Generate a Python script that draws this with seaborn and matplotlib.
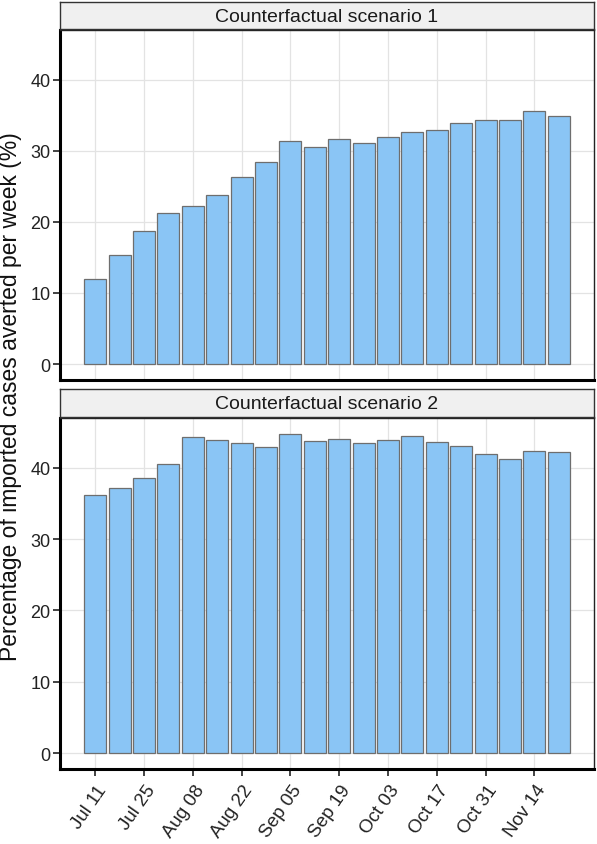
import matplotlib
matplotlib.use("Agg")
import matplotlib.pyplot as plt
import matplotlib.transforms as mtrans
import seaborn as sns
import pandas as pd

weeks = ["Jul 11", "Jul 18", "Jul 25", "Aug 01", "Aug 08", "Aug 15", "Aug 22", "Aug 29",
         "Sep 05", "Sep 12", "Sep 19", "Sep 26", "Oct 03", "Oct 10", "Oct 17", "Oct 24",
         "Oct 31", "Nov 07", "Nov 14", "Nov 21"]
scenario1 = [12.0, 15.3, 18.7, 21.2, 22.2, 23.8, 26.3, 28.4, 31.4, 30.6,
             31.7, 31.1, 31.9, 32.7, 32.9, 33.9, 34.3, 34.3, 35.6, 34.9]
scenario2 = [36.2, 37.2, 38.6, 40.6, 44.3, 43.9, 43.5, 42.9, 44.7, 43.8,
             44.1, 43.5, 43.9, 44.5, 43.7, 43.1, 42.0, 41.3, 42.4, 42.3]
panel_titles = ["Counterfactual scenario 1", "Counterfactual scenario 2"]
y_ticks = [0, 10, 20, 30, 40]
ylabel = "Percentage of imported cases averted per week (%)"

sns.set_style("white")
plt.rcParams['font.family'] = ['Liberation Sans', 'DejaVu Sans']

W, H = 597, 845
fig = plt.figure(figsize=(W / 100, H / 100), dpi=100)

def fx(px):
    return px / W

def fy(py):
    return 1 - py / H

fill = "#8AC5F5"
edge = "#6E6E6E"
tick_fs = 13

panels = [
    (scenario1, 3, 30, 31, 381, False),
    (scenario2, 390, 418, 419, 770, True),
]

for (vals, s_top, s_bot, a_top, a_bot, show_x), title in zip(panels, panel_titles):
    df = pd.DataFrame({"week": weeks, "value": vals})
    ax = fig.add_axes([fx(60), fy(a_bot), fx(594) - fx(60), fy(a_top) - fy(a_bot)])
    sns.barplot(data=df, x="week", y="value", order=weeks, color=fill, saturation=1,
                edgecolor=edge, linewidth=0.9, width=0.9, ax=ax)
    ax.set_axisbelow(True)
    ax.xaxis.grid(True, color="#E3E3E3", lw=0.9)
    ax.yaxis.grid(True, color="#E3E3E3", lw=0.9)
    ax.set_xlim(-1.445, 20.445)
    ax.set_ylim(-2.24, 47.0)
    ax.set_yticks(y_ticks)
    ax.set_yticklabels([str(t) for t in y_ticks], fontsize=tick_fs, color="#222222")
    ax.tick_params(axis="y", length=5, width=1.2, color="#222222", left=True, pad=2)
    ax.set_xticks(range(0, len(weeks), 2))
    ax.set_xlabel("")
    ax.set_ylabel("")
    if show_x:
        ax.tick_params(axis="x", length=5, width=1.2, color="#222222", bottom=True, pad=4)
        ax.set_xticklabels([weeks[i] for i in range(0, len(weeks), 2)], rotation=55,
                           ha="right", va="top", rotation_mode="default",
                           fontsize=13.5, color="#222222")
        off = mtrans.ScaledTranslation(15 / 100, 0, fig.dpi_scale_trans)
        for lab in ax.get_xticklabels():
            lab.set_transform(lab.get_transform() + off)
    else:
        ax.set_xticklabels([])
        ax.tick_params(axis="x", length=0, bottom=False)
    for side in ["top", "right"]:
        ax.spines[side].set_visible(True)
        ax.spines[side].set_linewidth(1.0)
        ax.spines[side].set_color("#222222")
    for side in ["left", "bottom"]:
        ax.spines[side].set_visible(True)
        ax.spines[side].set_linewidth(2.2)
        ax.spines[side].set_color("black")

    sax = fig.add_axes([fx(60), fy(s_bot), fx(594) - fx(60), fy(s_top) - fy(s_bot)])
    sax.set_facecolor("#F0F0F0")
    sax.set_xticks([])
    sax.set_yticks([])
    for sp in sax.spines.values():
        sp.set_visible(True)
        sp.set_color("#333333")
        sp.set_linewidth(1.0)
    sax.text(0.5, 0.47, title, ha="center", va="center", fontsize=14,
             color="#1A1A1A", transform=sax.transAxes)

fig.text(fx(11), fy(397), ylabel, rotation=90, ha="center", va="center",
         fontsize=16.5, color="#111111")

fig.savefig("out.png", dpi=100)
